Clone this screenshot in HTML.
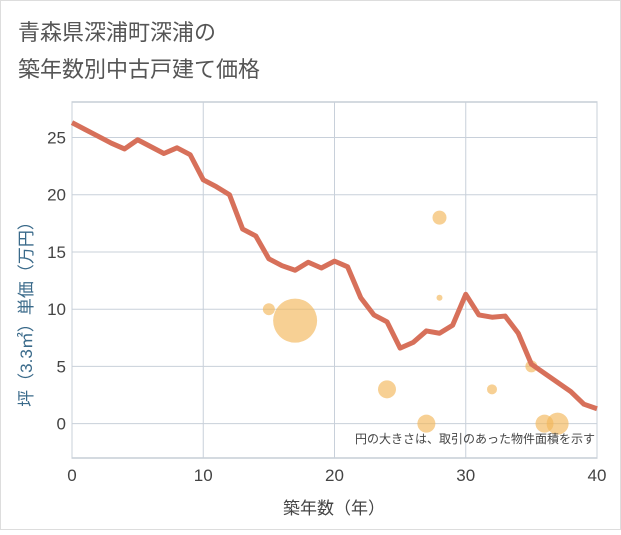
<!DOCTYPE html>
<html><head><meta charset="utf-8"><style>
body{margin:0;background:#fff;}
#c{width:621px;height:530px;position:relative;font-family:"Liberation Sans","Noto Sans CJK JP",sans-serif;}
</style></head><body>
<div id="c">
<svg id="s" width="621" height="530">
<rect x="0.5" y="0.5" width="620" height="529" fill="#fff" stroke="#ddd"/>
<text x="18" y="40" font-size="22" fill="#555">青森県深浦町深浦の</text>
<text x="18" y="77" font-size="22" fill="#555">築年数別中古戸建て価格</text>
<g id="grid"></g>
<g id="marks"></g>
<text x="334" y="514" font-size="17" fill="#444" text-anchor="middle">築年数（年）</text>
<text transform="translate(32,310) rotate(-90)" font-size="17" fill="#3a6a8a" text-anchor="middle">坪（3.3㎡）単価（万円）</text>
<text x="595" y="443" font-size="12" fill="#444" text-anchor="end">円の大きさは、取引のあった物件面積を示す</text>
</svg>
</div>
<script>
const xTicks=[0,10,20,30,40];
const yTicks=[0,5,10,15,20,25];
const lineYears=[0,1,2,3,4,5,6,7,8,9,10,11,12,13,14,15,16,17,18,19,20,21,22,23,24,25,26,27,28,29,30,31,32,33,34,35,36,37,38,39,40];
const linePrices=[26.3,25.7,25.1,24.5,24.0,24.8,24.2,23.6,24.1,23.5,21.3,20.7,20.0,17.0,16.4,14.4,13.8,13.4,14.1,13.6,14.2,13.7,11.0,9.5,8.9,6.6,7.1,8.1,7.9,8.6,11.3,9.5,9.3,9.4,7.9,5.2,4.4,3.6,2.8,1.7,1.3];
const bubbleYears=[15,17,24,27,28,28,32,35,36,37];
const bubblePrices=[10,9,3,0,18,11,3,5,0,0];
const bubbleSizes=[6,22,9,9,7,3,5,6,9,11];
const X0=72,X1=597,Y0=458,Y1=102,XMIN=0,XMAX=40,YMIN=-3,YMAX=28.1;
const sx=v=>X0+(v-XMIN)/(XMAX-XMIN)*(X1-X0);
const sy=v=>Y0-(v-YMIN)/(YMAX-YMIN)*(Y0-Y1);
const NS="http://www.w3.org/2000/svg";
const grid=document.getElementById('grid'),marks=document.getElementById('marks');
function mk(tag,attrs,parent){const e=document.createElementNS(NS,tag);for(const k in attrs)e.setAttribute(k,attrs[k]);parent.appendChild(e);return e;}
const bg=mk('rect',{x:X0,y:Y1,width:X1-X0,height:Y0-Y1,fill:'#fff',stroke:'#aab4c0'},grid);


xTicks.forEach(t=>{
 const l=mk('line',{x1:sx(t),x2:sx(t),y1:Y1,y2:Y0,stroke:'#c8d0da'},grid);
 
 
 const tx=mk('text',{x:sx(t),y:Y0+23,'font-size':17,fill:'#444','text-anchor':'middle'},grid);
 tx.textContent=t;
 
 
});
yTicks.forEach(t=>{
 const l=mk('line',{x1:X0,x2:X1,y1:sy(t),y2:sy(t),stroke:'#c8d0da'},grid);
 
 
 const tx=mk('text',{x:X0-6,y:sy(t)+6,'font-size':17,fill:'#444','text-anchor':'end'},grid);
 tx.textContent=t;
 
 
});
bubbleYears.forEach((y,i)=>{
 const c=mk('circle',{cx:sx(y),cy:sy(bubblePrices[i]),r:bubbleSizes[i],fill:'#f2b75a','fill-opacity':0.65},marks);
 
 
});
const pts=lineYears.map((y,i)=>sx(y)+','+sy(linePrices[i])).join(' ');
const pl=mk('polyline',{points:pts,fill:'none',stroke:'#d7705a','stroke-width':5,'stroke-linejoin':'round'},marks);


</script>
</body></html>
